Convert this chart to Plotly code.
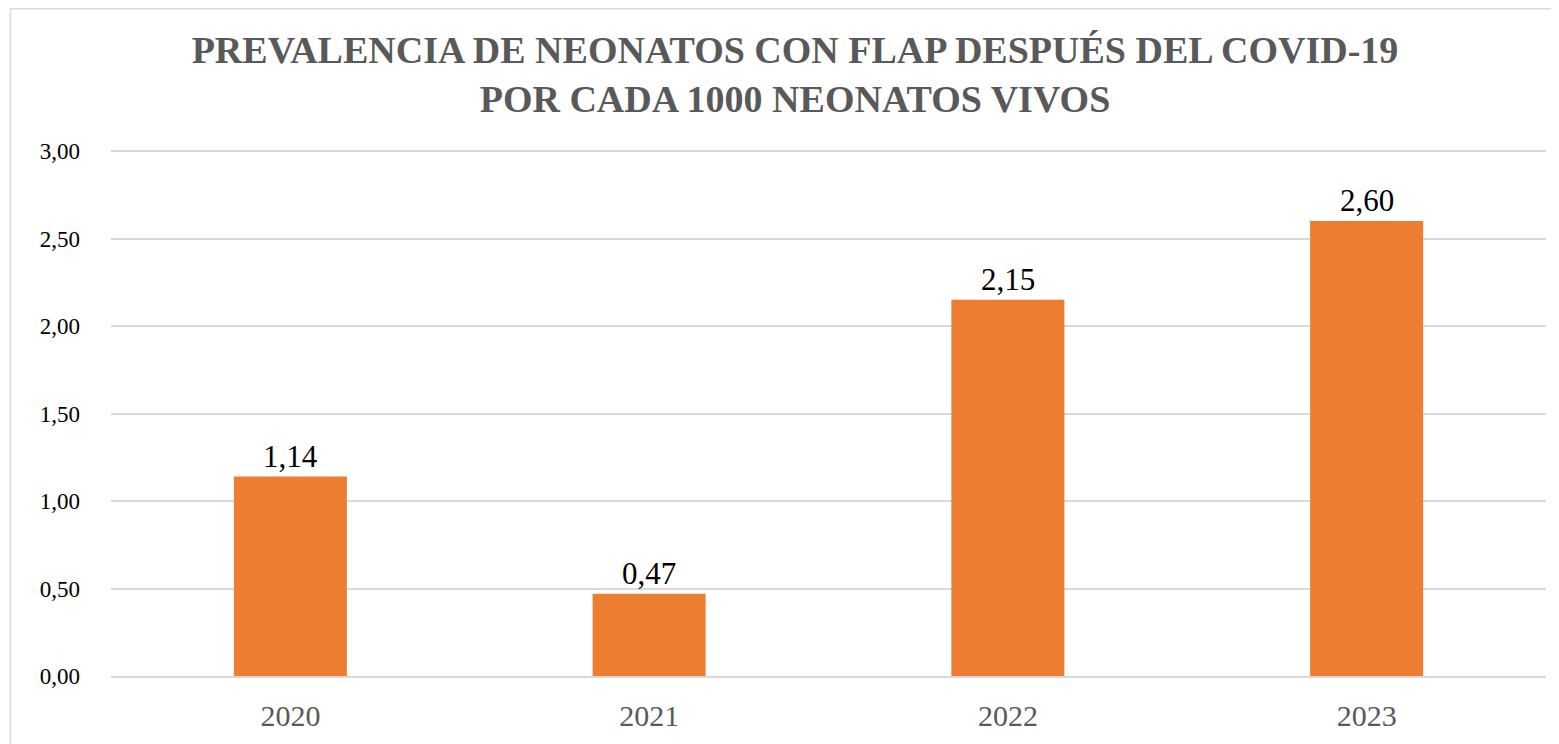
import plotly.graph_objects as go

years = ["2020", "2021", "2022", "2023"]
values = [1.14, 0.47, 2.15, 2.60]
ytick_vals = [0, 0.5, 1.0, 1.5, 2.0, 2.5, 3.0]
ytick_text = ["0,00", "0,50", "1,00", "1,50", "2,00", "2,50", "3,00"]
labels = [f"{v:.2f}".replace(".", ",") for v in values]

# page body has an 8px margin: figure is sized to fit the window
W, H = 1551, 736
L, R, T, B = 103, 13, 140, 68
pw, ph = W - L - R, H - T - B
px_per_unit = 175.0
ymax = ph / px_per_unit

fig = go.Figure(go.Bar(
    x=years, y=values, marker=dict(color="#ED7D31", line=dict(width=0)),
    width=0.315,
))

for i, (y, t) in enumerate(zip(values, labels)):
    fig.add_annotation(x=i, y=y, text=t, showarrow=False, yanchor="bottom",
                       yshift=1, font=dict(family="Liberation Serif", size=31, color="#000000"))

def px2paper_x(p):
    return (p - L) / pw

def px2paper_y(p):
    return (H - B - p) / ph

fig.add_shape(type="rect", xref="paper", yref="paper",
              x0=px2paper_x(2.5), x1=px2paper_x(1600), y0=px2paper_y(800), y1=px2paper_y(0.75),
              line=dict(color="#D9D9D9", width=1.5), fillcolor="rgba(0,0,0,0)", layer="below")

fig.update_layout(
    width=W, height=H,
    margin=dict(l=L, r=R, t=T, b=B),
    paper_bgcolor="white", plot_bgcolor="white",
    showlegend=False,
    title=dict(
        text="<b>PREVALENCIA DE NEONATOS CON FLAP DESPUÉS DEL COVID-19<br>POR CADA 1000 NEONATOS VIVOS</b>",
        x=787 / W, xanchor="center", xref="container",
        y=1 - 55 / H, yanchor="middle", yref="container",
        font=dict(family="Liberation Serif", size=38, color="#595959"),
    ),
    xaxis=dict(
        type="category", range=[-0.5, 3.5], automargin=False,
        showgrid=False, showline=True, linecolor="#D9D9D9", linewidth=1.5,
        ticks="", tickfont=dict(family="Liberation Serif", size=30, color="#595959"),
        ticklabelstandoff=12,
    ),
    yaxis=dict(
        range=[0, ymax], tickvals=ytick_vals, ticktext=ytick_text, automargin=False,
        showgrid=True, gridcolor="#D9D9D9", gridwidth=1.5,
        zeroline=False, showline=False, ticks="",
        tickfont=dict(family="Liberation Serif", size=23, color="#000000"),
        ticklabelstandoff=30,
    ),
)

fig.write_html("out.html")
